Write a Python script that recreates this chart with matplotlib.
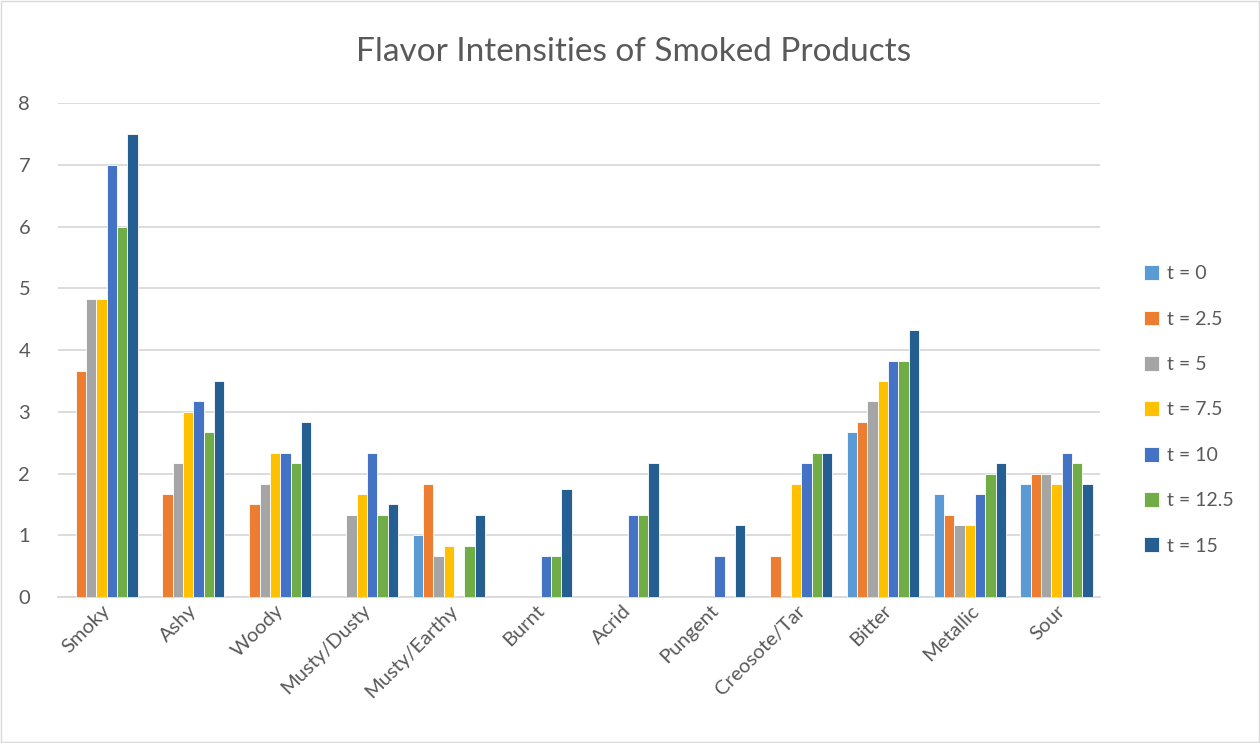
import numpy as np
import matplotlib.pyplot as plt
from matplotlib.patches import Rectangle

plt.rcParams['font.family'] = ['Lato', 'DejaVu Sans']

flavors = ['Smoky', 'Ashy', 'Woody', 'Musty/Dusty', 'Musty/Earthy', 'Burnt',
           'Acrid', 'Pungent', 'Creosote/Tar', 'Bitter', 'Metallic', 'Sour']
series_names = ['t = 0', 't = 2.5', 't = 5', 't = 7.5', 't = 10', 't = 12.5', 't = 15']
colors = ['#5B9BD5', '#ED7D31', '#A5A5A5', '#FFC000', '#4472C4', '#70AD47', '#255E91']

t0 = [0, 0, 0, 0, 1.0, 0, 0, 0, 0, 2.67, 1.67, 1.83]
t2_5 = [3.67, 1.67, 1.5, 0, 1.83, 0, 0, 0, 0.67, 2.83, 1.33, 2.0]
t5 = [4.83, 2.17, 1.83, 1.33, 0.67, 0, 0, 0, 0, 3.17, 1.17, 2.0]
t7_5 = [4.83, 3.0, 2.33, 1.67, 0.83, 0, 0, 0, 1.83, 3.5, 1.17, 1.83]
t10 = [7.0, 3.17, 2.33, 2.33, 0, 0.67, 1.33, 0.67, 2.17, 3.83, 1.67, 2.33]
t12_5 = [6.0, 2.67, 2.17, 1.33, 0.83, 0.67, 1.33, 0, 2.33, 3.83, 2.0, 2.17]
t15 = [7.5, 3.5, 2.83, 1.5, 1.33, 1.75, 2.17, 1.17, 2.33, 4.33, 2.17, 1.83]
series = [t0, t2_5, t5, t7_5, t10, t12_5, t15]

fig = plt.figure(figsize=(12.6, 7.43), dpi=100)
ax = fig.add_axes([0.046, 0.1965, 0.827, 0.6645])

x = np.arange(len(flavors))
w = 0.119
for i, vals in enumerate(series):
    ax.bar(x + (i - 3) * w, vals, width=w, color=colors[i], edgecolor='white',
           linewidth=0.6, label=series_names[i], zorder=3)

ax.set_xlim(-0.5, len(flavors) - 0.5)
ax.set_ylim(0, 8)
ax.set_yticks(range(9))
ax.yaxis.grid(True, color='#d9d9d9', linewidth=1.3, zorder=0)
for s in ['top', 'right', 'left']:
    ax.spines[s].set_visible(False)
ax.spines['bottom'].set_color('#d9d9d9')
ax.spines['bottom'].set_linewidth(1.3)
ax.tick_params(axis='both', length=0, colors='#595959', labelsize=14.5)
ax.tick_params(axis='y', pad=20)
ax.set_xticks(x)
ax.set_xticklabels(flavors, rotation=45, ha='right', rotation_mode='anchor')

fig.text(0.503, 0.93, 'Flavor Intensities of Smoked Products', ha='center',
         va='center', fontsize=24, color='#595959')

leg = ax.legend(loc='center left', bbox_to_anchor=(1.025, 0.379), frameon=False,
                fontsize=14, labelcolor='#595959', handlelength=0.8,
                handleheight=0.8, handletextpad=0.4, labelspacing=1.45)

fig.patches.append(Rectangle((0.001, 0.001), 0.998, 0.998, transform=fig.transFigure,
                             fill=False, edgecolor='#d9d9d9', linewidth=1))

fig.savefig('out.png', dpi=100)
